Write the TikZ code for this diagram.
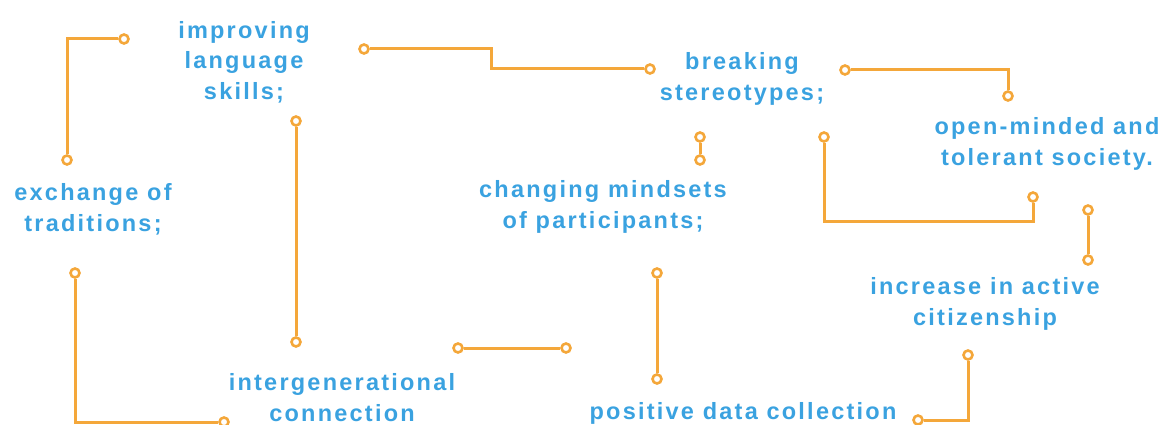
\documentclass[tikz,border=0pt]{standalone}
\usepackage{fontspec}
\newfontfamily\labelfont{Liberation Sans Bold}[LetterSpace=9.5]
\definecolor{labelblue}{HTML}{3AA2E0}
\definecolor{wireorange}{HTML}{F4A73A}
\begin{document}
\begin{tikzpicture}[x=1pt,y=-1pt,
  pin/.style={circle,draw=wireorange,fill=white,line width=2.6pt,minimum size=9pt,inner sep=0pt},
  wire/.style={draw=wireorange,line width=3pt},
  label/.style={text=labelblue,font=\labelfont\fontsize{23.5}{31}\selectfont,align=center,anchor=base,inner sep=0pt}]
\useasboundingbox (0,0) rectangle (1161,425);

% labels (positioned by the baseline of their last line)
\node[label] (lang) at (244,100) {improving\\language\\skills;};
\node[label] (trad) at (93,231) {exchange of\\traditions;};
\node[label] (stereo) at (742,101) {breaking\\stereotypes;};
\node[label] (society) at (1047,165) {open-minded and\\tolerant society.};
\node[label] (mind) at (603,228) {changing mindsets\\of participants;};
\node[label] (citizen) at (985,325) {increase in active\\citizenship};
\node[label] (gener) at (342,421.5) {intergenerational\\connection};
\node[label] (data) at (743,419) {positive data collection};

% connectors
\node[pin] (a1) at (124,39) {};
\node[pin] (a2) at (67,160) {};
\draw[wire] (a1) -| (a2);

\node[pin] (b1) at (364,49) {};
\node[pin] (b2) at (650,69) {};
\draw[wire] (b1) -- (491,49) |- (b2);

\node[pin] (c1) at (845,70) {};
\node[pin] (c2) at (1008,96) {};
\draw[wire] (c1) -| (c2);

\node[pin] (d1) at (700,137) {};
\node[pin] (d2) at (700,160) {};
\draw[wire] (d1) -- (d2);

\node[pin] (e1) at (824,137) {};
\node[pin] (e2) at (1033,197) {};
\draw[wire] (e1) |- (1033,221) -- (e2);

\node[pin] (f1) at (1088,210) {};
\node[pin] (f2) at (1088,260) {};
\draw[wire] (f1) -- (f2);

\node[pin] (g1) at (296,121) {};
\node[pin] (g2) at (296,342) {};
\draw[wire] (g1) -- (g2);

\node[pin] (h1) at (75,273) {};
\node[pin] (h2) at (224,422) {};
\draw[wire] (h1) |- (h2);

\node[pin] (i1) at (458,348) {};
\node[pin] (i2) at (566,348) {};
\draw[wire] (i1) -- (i2);

\node[pin] (j1) at (657,273) {};
\node[pin] (j2) at (657,379) {};
\draw[wire] (j1) -- (j2);

\node[pin] (k1) at (968,355) {};
\node[pin] (k2) at (918,420) {};
\draw[wire] (k1) |- (k2);
\end{tikzpicture}
\end{document}
